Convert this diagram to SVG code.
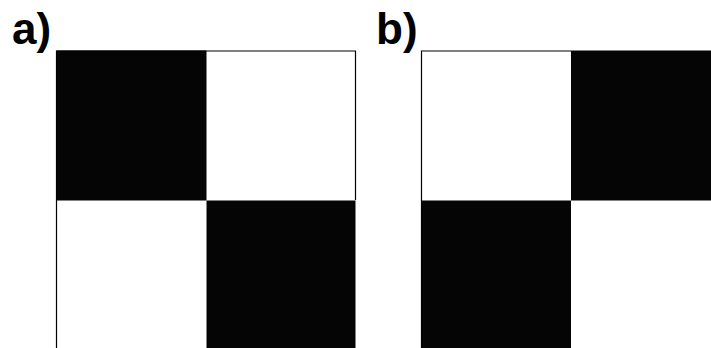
<svg xmlns="http://www.w3.org/2000/svg" width="711" height="348" viewBox="0 0 711 348">
<style>
.lbl{font-family:"Liberation Sans",Arial,sans-serif;font-weight:bold;font-size:44px;fill:#000}
.fr{fill:none;stroke:#000;stroke-width:1.2}
.bk{fill:#050505}
</style>
<rect width="711" height="348" fill="#fff"/>
<g id="panel-a">
<text class="lbl" x="12" y="44">a)</text>
<rect class="bk" x="56.5" y="50.5" width="150" height="150"/>
<rect class="bk" x="206.5" y="200.5" width="149" height="148"/>
<path class="fr" d="M56.5,348 V51 H355.5 V200"/>
</g>
<g id="panel-b">
<text class="lbl" x="376" y="44">b)</text>
<rect class="bk" x="571" y="50.5" width="140" height="150"/>
<rect class="bk" x="421" y="200.5" width="150" height="148"/>
<path class="fr" d="M421.5,348 V51 H571"/>
</g>
</svg>
